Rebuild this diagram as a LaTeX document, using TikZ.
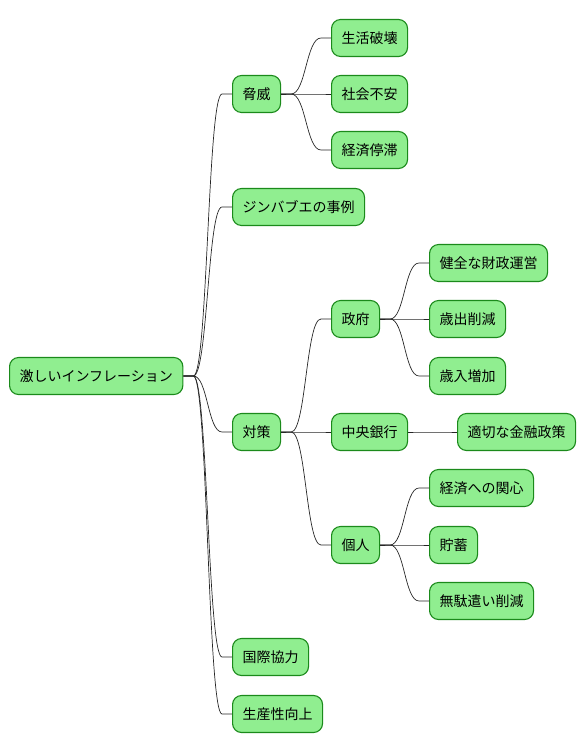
\documentclass[tikz,border=0pt]{standalone}
\usepackage{fontspec}
\setmainfont{Noto Sans CJK JP}
\usepackage{xcolor}
\usepackage{tikz}
\usetikzlibrary{calc, positioning}

\definecolor{leaffill}{HTML}{90EE90}
\definecolor{leafline}{HTML}{1B8A1B}

\tikzset{
  topic/.style={draw=leafline, fill=leaffill, line width=1.1pt, rounded corners=9pt,
    minimum height=37pt, inner xsep=10pt, anchor=west, font=\fontsize{14}{16}\selectfont},
  edge/.style={draw=black!85, line width=0.7pt}
}
% branch from parent to child
\newcommand{\branch}[2]{%
  \draw[edge] let \p1=(#1.east), \p2=(#2.west) in
    (\p1) -- (\x1+10pt,\y1) .. controls (\x1/2+\x2/2,\y1) and (\x1/2+\x2/2,\y2) .. (\x2-10pt,\y2) -- (\p2);}

\begin{document}
\begin{tikzpicture}[x=1pt, y=-1pt]
\useasboundingbox (0,0) rectangle (586,752);

\node[topic] (root) at (9,376) {激しいインフレーション};

\node[topic] (threat) at (232,94) {脅威};
\node[topic] (life) at (331,38) {生活破壊};
\node[topic] (unrest) at (331,94) {社会不安};
\node[topic] (stagn) at (331,150) {経済停滞};

\node[topic] (zimb) at (232,207) {ジンバブエの事例};

\node[topic] (measure) at (232,432) {対策};
\node[topic] (gov) at (331,319) {政府};
\node[topic] (fiscal) at (429,263) {健全な財政運営};
\node[topic] (spend) at (429,319) {歳出削減};
\node[topic] (revenue) at (429,376) {歳入増加};
\node[topic] (cbank) at (331,432) {中央銀行};
\node[topic] (monetary) at (457,432) {適切な金融政策};
\node[topic] (person) at (331,545) {個人};
\node[topic] (interest) at (429,488) {経済への関心};
\node[topic] (saving) at (429,545) {貯蓄};
\node[topic] (waste) at (429,601) {無駄遣い削減};

\node[topic] (intl) at (232,657) {国際協力};
\node[topic] (prod) at (232,714) {生産性向上};

\foreach \c in {threat, zimb, measure, intl, prod} {\branch{root}{\c}}
\foreach \c in {life, unrest, stagn} {\branch{threat}{\c}}
\foreach \c in {gov, cbank, person} {\branch{measure}{\c}}
\foreach \c in {fiscal, spend, revenue} {\branch{gov}{\c}}
\branch{cbank}{monetary}
\foreach \c in {interest, saving, waste} {\branch{person}{\c}}
\end{tikzpicture}
\end{document}
